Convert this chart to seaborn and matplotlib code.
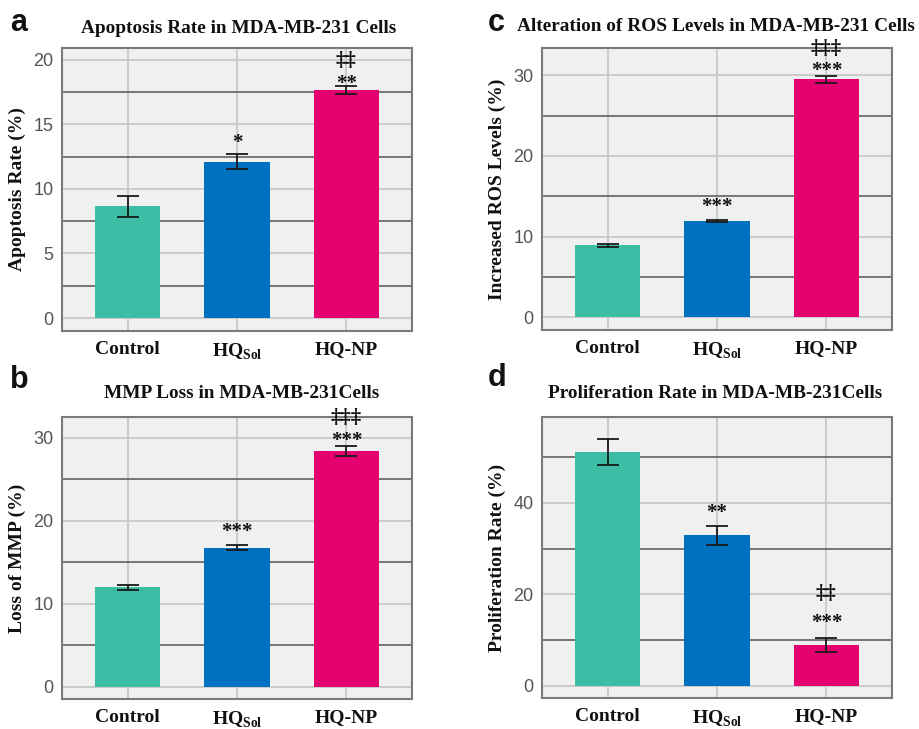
import matplotlib
matplotlib.use("Agg")
import matplotlib.pyplot as plt
import seaborn as sns
from matplotlib.ticker import MultipleLocator

# groups and colours
groups = ["Control", "HQ_Sol", "HQ-NP"]
group_labels = ["Control", r"HQ$_{\mathbf{Sol}}$", "HQ-NP"]
bar_colors = ["#3dbda6", "#0070c0", "#e4006f"]

# a - apoptosis
apoptosis = [8.65, 12.1, 17.65]
apoptosis_err = [0.8, 0.6, 0.3]
apoptosis_stars = ["", "*", "**"]
apoptosis_daggers = ["", "", "‡‡"]

# b - MMP loss
mmp_loss = [11.95, 16.75, 28.4]
mmp_loss_err = [0.35, 0.3, 0.55]
mmp_loss_stars = ["", "***", "***"]
mmp_loss_daggers = ["", "", "‡‡‡"]

# c - ROS levels
ros = [8.9, 11.95, 29.5]
ros_err = [0.2, 0.1, 0.4]
ros_stars = ["", "***", "***"]
ros_daggers = ["", "", "‡‡‡"]

# d - proliferation
prolif = [51.1, 32.9, 8.9]
prolif_err = [2.9, 2.1, 1.5]
prolif_stars = ["", "**", "***"]
prolif_daggers = ["", "", "‡‡"]

sns.set_theme(style="whitegrid")
plt.rcParams["font.family"] = ["Liberation Serif", "DejaVu Serif"]
plt.rcParams["mathtext.fontset"] = "custom"
plt.rcParams["mathtext.rm"] = "Liberation Serif"
plt.rcParams["mathtext.bf"] = "Liberation Serif:bold"

W, H = 919, 729
fig = plt.figure(figsize=(W / 100, H / 100), dpi=100)
fig.patch.set_facecolor("white")


def rect(l, t, r, b):
    return [l / W, 1 - b / H, (r - l) / W, (b - t) / H]


panels = [
    dict(letter="a", title="Apoptosis Rate in MDA-MB-231 Cells", ylabel="Apoptosis Rate (%)",
         vals=apoptosis, errs=apoptosis_err, stars=apoptosis_stars, daggers=apoptosis_daggers,
         box=(62, 48, 412, 331), ylim=(-1.0, 20.9), step=5,
         title_xy=(239, 33), letter_xy=(10, 31), off=[0, 1, -5.5], gap=17),
    dict(letter="c", title="Alteration of ROS Levels in MDA-MB-231 Cells", ylabel="Increased ROS Levels (%)",
         vals=ros, errs=ros_err, stars=ros_stars, daggers=ros_daggers,
         box=(542, 48, 892, 330), ylim=(-1.6, 33.4), step=10,
         title_xy=(716, 31), letter_xy=(488, 31), off=[0, 2, -3.5], gap=16.5),
    dict(letter="b", title="MMP Loss in MDA-MB-231Cells", ylabel="Loss of MMP (%)",
         vals=mmp_loss, errs=mmp_loss_err, stars=mmp_loss_stars, daggers=mmp_loss_daggers,
         box=(62, 417, 412, 699), ylim=(-1.5, 32.5), step=10,
         title_xy=(242, 398), letter_xy=(10, 388), off=[0, 2, -3], gap=17),
    dict(letter="d", title="Proliferation Rate in MDA-MB-231Cells", ylabel="Proliferation Rate (%)",
         vals=prolif, errs=prolif_err, stars=prolif_stars, daggers=prolif_daggers,
         box=(542, 417, 892, 698), ylim=(-2.7, 58.8), step=20,
         title_xy=(715, 398), letter_xy=(488, 386), off=[0, 2, 4], gap=21),
]

for p in panels:
    ax = fig.add_axes(rect(*p["box"]))
    sns.barplot(x=groups, y=p["vals"], hue=groups, palette=bar_colors, order=groups,
                width=0.6, saturation=1, legend=False, ax=ax, zorder=2, linewidth=0)
    ax.errorbar(range(3), p["vals"], yerr=p["errs"], fmt="none", ecolor="#1a1a1a",
                elinewidth=1.3, capsize=8, capthick=1.3, zorder=3)

    for i in range(3):
        top = p["vals"][i] + p["errs"][i]
        if p["stars"][i]:
            ax.annotate(p["stars"][i], (i, top), xytext=(0, p["off"][i]), textcoords="offset points",
                        ha="center", va="bottom", fontsize=15, fontweight="bold",
                        color="#111111", zorder=4)
        if p["daggers"][i]:
            ax.annotate(p["daggers"][i], (i, top), xytext=(0, p["off"][i] + p["gap"]),
                        textcoords="offset points", ha="center", va="bottom", fontsize=14.5,
                        fontweight="bold", color="#111111", zorder=4,
                        family=["DejaVu Serif", "DejaVu Sans"])

    ax.set_xlim(-0.6, 2.6)
    ax.set_ylim(*p["ylim"])
    ax.set_facecolor("#f0f0f0")
    ax.set_axisbelow(True)
    ax.yaxis.set_major_locator(MultipleLocator(p["step"]))
    ax.yaxis.set_minor_locator(MultipleLocator(p["step"] / 2))
    ax.grid(False)
    ax.grid(which="major", axis="both", color="#c9c9c9", lw=1.3)
    ax.grid(which="minor", axis="y", color="#555555", lw=1.1)
    ax.tick_params(which="both", length=0)
    ax.tick_params(axis="y", pad=6)
    ax.tick_params(axis="x", pad=7.5)

    ax.set_xticks(range(3))
    ax.set_xticklabels(group_labels, fontsize=14, fontweight="bold", color="#111111")
    for lab in ax.get_yticklabels():
        lab.set_fontfamily(["Liberation Sans", "DejaVu Sans"])
        lab.set_fontsize(13)
        lab.set_color("#555555")

    for s in ax.spines.values():
        s.set_color("#7a7a7a")
        s.set_linewidth(1.5)
        s.set_visible(True)

    ax.set_xlabel("")
    ax.set_ylabel(p["ylabel"], fontsize=14, fontweight="bold", color="#111111")
    ax.yaxis.label.set_va("center")
    ax.yaxis.set_label_coords(-45 / 350, 0.5)

    fig.text(p["title_xy"][0] / W, 1 - p["title_xy"][1] / H, p["title"], ha="center",
             va="baseline", fontsize=13.9, fontweight="bold", color="#111111")
    fig.text(p["letter_xy"][0] / W, 1 - p["letter_xy"][1] / H, p["letter"], ha="left",
             va="baseline", fontsize=22, fontweight="bold", color="#111111",
             family=["Liberation Sans", "DejaVu Sans"])

fig.savefig("out.png", dpi=100)
